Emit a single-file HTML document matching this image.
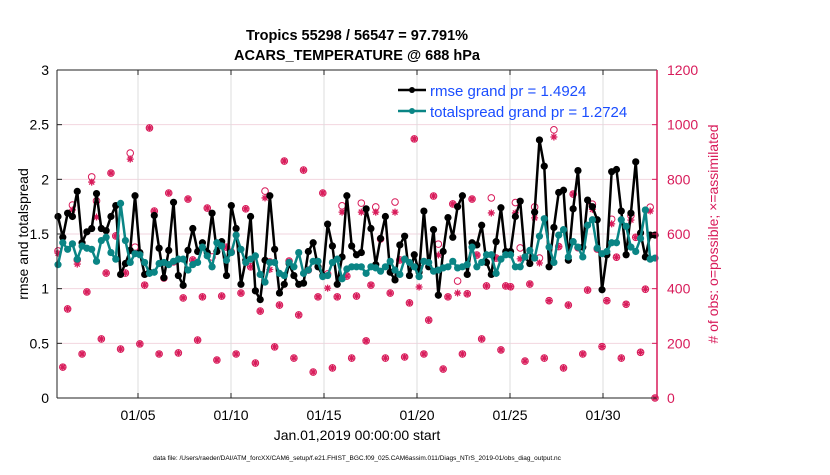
<!DOCTYPE html>
<html><head><meta charset="utf-8"><style>
body{margin:0;background:#fff;width:830px;height:470px;overflow:hidden;font-family:"Liberation Sans",sans-serif}
svg text{font-family:"Liberation Sans",sans-serif}
</style></head><body>
<svg id="chart" width="830" height="470" xmlns="http://www.w3.org/2000/svg">
<text x="357" y="40" text-anchor="middle" font-size="14.5" font-weight="bold">Tropics 55298 / 56547 = 97.791%</text>
<text x="357" y="60" text-anchor="middle" font-size="14.5" font-weight="bold">ACARS_TEMPERATURE @ 688 hPa</text>
<g id="grid"></g>
<g id="obs"></g>
<g id="lines"></g>
<g id="axes"></g>
<text transform="translate(28,234) rotate(-90)" text-anchor="middle" font-size="14">rmse and totalspread</text>
<text transform="translate(718,234) rotate(-90)" text-anchor="middle" font-size="14" fill="#d81b5a"># of obs: o=possible; ×=assimilated</text>
<text x="357" y="440" text-anchor="middle" font-size="14">Jan.01,2019 00:00:00 start</text>
<text x="357" y="460" text-anchor="middle" font-size="6.5">data file: /Users/raeder/DAI/ATM_forcXX/CAM6_setup/f.e21.FHIST_BGC.f09_025.CAM6assim.011/Diags_NTrS_2019-01/obs_diag_output.nc</text>
<g>
<line x1="398" y1="90" x2="426" y2="90" stroke="#000" stroke-width="2.5"/><circle cx="412" cy="90" r="3" fill="#000"/>
<text x="430" y="96" font-size="15" fill="#1a4dff">rmse grand pr = 1.4924</text>
<line x1="398" y1="111" x2="426" y2="111" stroke="#0a8585" stroke-width="2.5"/><circle cx="412" cy="111" r="3" fill="#0a8585"/>
<text x="430" y="117" font-size="15" fill="#1a4dff">totalspread grand pr = 1.2724</text>
</g>
</svg>
<script>
const rmse=[1.66,1.47,1.69,1.66,1.89,1.42,1.52,1.55,1.87,1.55,1.53,1.66,1.76,1.13,1.23,1.35,1.85,1.33,1.13,1.15,1.67,1.37,1.10,1.35,1.79,1.12,1.03,1.35,1.55,1.34,1.42,1.33,
1.69,1.34,1.43,1.12,1.76,1.55,1.04,1.26,1.66,0.98,0.90,1.26,1.85,1.36,0.96,1.04,1.23,1.12,1.04,1.05,1.34,1.42,1.20,1.12,1.59,1.39,1.04,1.29,1.85,1.39,1.31,
1.33,1.73,1.55,1.22,1.46,1.66,1.15,1.08,1.40,1.48,1.12,1.31,1.15,1.71,1.20,1.54,0.94,1.34,1.65,1.47,1.75,1.85,1.13,1.42,1.40,1.58,1.24,1.13,1.43,1.74,1.34,
1.34,1.66,1.80,1.29,1.23,1.70,2.36,2.12,1.20,1.56,1.88,1.90,1.26,1.73,2.08,1.38,1.81,1.75,1.63,0.99,1.31,2.07,2.09,1.71,1.31,1.69,2.16,1.51,1.29,1.49,1.49];
const spread=[1.22,1.42,1.36,1.41,1.27,1.39,1.37,1.36,1.25,1.44,1.47,1.33,1.27,1.78,1.44,1.24,1.32,1.31,1.24,1.14,1.15,1.23,1.24,1.22,1.25,1.27,1.27,1.17,1.22,1.24,1.38,1.30,
1.20,1.42,1.39,1.26,1.33,1.49,1.36,1.24,1.27,1.30,1.13,1.06,1.24,1.24,1.14,1.12,1.24,1.20,1.33,1.14,1.17,1.25,1.25,1.11,1.12,1.24,1.27,1.09,1.18,1.20,1.20,
1.20,1.14,1.20,1.19,1.16,1.20,1.25,1.17,1.13,1.27,1.24,1.20,1.11,1.25,1.24,1.16,1.17,1.19,1.20,1.25,1.19,1.20,1.22,1.38,1.20,1.24,1.31,1.31,1.14,1.27,
1.31,1.31,1.20,1.20,1.29,1.35,1.28,1.48,1.64,1.38,1.24,1.49,1.54,1.29,1.43,1.38,1.29,1.58,1.63,1.37,1.32,1.34,1.42,1.42,1.63,1.57,1.38,1.34,1.46,1.72,1.27,1.28];
const possible=[538,113,326,706,505,161,388,809,721,216,457,823,593,179,457,896,552,198,413,988,684,161,439,750,498,165,366,728,505,212,370,695,
516,139,373,552,534,161,384,692,480,128,318,757,498,187,340,867,501,146,304,834,468,95,370,750,454,110,370,703,446,146,373,
713,209,413,699,582,146,384,717,505,150,348,948,475,161,285,739,563,106,370,710,428,161,381,728,523,216,410,732,512,176,410,
407,715,549,135,417,699,512,146,356,981,554,110,340,746,550,161,395,709,545,188,356,654,515,146,343,667,588,167,398,698,0];
const assimilated=[530,113,326,688,490,161,388,790,662,216,457,823,593,179,457,874,530,198,413,988,684,161,439,750,498,165,366,728,505,212,370,695,
480,139,373,552,534,161,384,692,480,128,318,732,470,187,340,867,501,146,304,834,468,95,370,750,402,110,370,680,446,146,373,
680,209,413,680,582,146,384,680,505,150,348,948,406,161,285,739,523,106,370,710,384,161,381,728,523,216,410,677,512,176,410,
407,677,509,135,417,659,494,146,356,955,554,110,340,746,550,161,395,690,545,188,356,637,515,146,343,651,588,167,398,684,0];
const tickDays=[5,10,15,20,25,30];
const tickLabels=['01/05','01/10','01/15','01/20','01/25','01/30'];
const leftTicks=[0,0.5,1,1.5,2,2.5,3];
const rightTicks=[0,200,400,600,800,1000,1200];

const X0=57,X1=657,Y0=398,Y1=70;
const xi=i=>58+i*(655-58)/(rmse.length-1);
const xd=d=>138+(d-5)*18.6;
const yl=v=>Y0-(v/3)*(Y0-Y1);
const yr=v=>Y0-(v/1200)*(Y0-Y1);
const NS='http://www.w3.org/2000/svg';
function mk(tag,parent,attrs){const e=document.createElementNS(NS,tag);for(const k in attrs)e.setAttribute(k,attrs[k]);parent.appendChild(e);return e;}
const grid=document.getElementById('grid'),obs=document.getElementById('obs'),lines=document.getElementById('lines'),axes=document.getElementById('axes');
const OC='#d81b5a';
leftTicks.forEach((t,k)=>{
  if(t>0&&t<3){const g=mk('line',grid,{x1:X0,x2:X1,y1:yl(t),y2:yl(t),stroke:'#f2d6df','stroke-width':1});
  
  }
  const tx=mk('text',axes,{x:X0-8,y:yl(t)+5,'text-anchor':'end','font-size':14});tx.textContent=String(t);
  
  
  mk('line',axes,{x1:X0,x2:X0+5,y1:yl(t),y2:yl(t),stroke:'#222'});
});
rightTicks.forEach(t=>{
  const tx=mk('text',axes,{x:X1+10,y:yr(t)+5,'font-size':14,fill:OC});tx.textContent=String(t);
  
  
  mk('line',axes,{x1:X1-5,x2:X1,y1:yr(t),y2:yr(t),stroke:OC});
});
tickDays.forEach((d,k)=>{
  const x=xd(d);
  const g=mk('line',grid,{x1:x,x2:x,y1:Y1,y2:Y0,stroke:'#dcdcdc','stroke-width':1});
  
  
  mk('line',axes,{x1:x,x2:x,y1:Y0,y2:Y0-5,stroke:'#222'});
  mk('line',axes,{x1:x,x2:x,y1:Y1,y2:Y1+5,stroke:'#222'});
  const tx=mk('text',axes,{x:x,y:Y0+22,'text-anchor':'middle','font-size':14});tx.textContent=tickLabels[k];
  
  
});
mk('line',axes,{x1:X0,x2:X0,y1:Y1,y2:Y0,stroke:'#222','stroke-width':1});
mk('line',axes,{x1:X0,x2:X1,y1:Y0,y2:Y0,stroke:'#222','stroke-width':1});
mk('line',axes,{x1:X0,x2:X1,y1:Y1,y2:Y1,stroke:'#222','stroke-width':1});
mk('line',axes,{x1:X1,x2:X1,y1:Y1,y2:Y0,stroke:OC,'stroke-width':1.5});

possible.forEach((v,i)=>{
  const c=mk('circle',obs,{cx:xi(i),cy:yr(v),r:3.3,fill:'none',stroke:OC,'stroke-width':1});
  
  
});
assimilated.forEach((v,i)=>{
  const x=xi(i),y=yr(v),s=3.5;
  const p=mk('path',obs,{d:`M${x-s},${y}H${x+s}M${x},${y-s}V${y+s}M${x-2.5},${y-2.5}L${x+2.5},${y+2.5}M${x-2.5},${y+2.5}L${x+2.5},${y-2.5}`,stroke:OC,'stroke-width':1.3});
  
  
});
function series(vals,color,name){
  const pl=mk('polyline',lines,{points:vals.map((v,i)=>xi(i)+','+yl(v)).join(' '),fill:'none',stroke:color,'stroke-width':2.5,'stroke-linejoin':'round'});
  
  
  vals.forEach((v,i)=>{
    const c=mk('circle',lines,{cx:xi(i),cy:yl(v),r:3.6,fill:color});
    
    
  });
}
series(rmse,'#000','rmse');
series(spread,'#0a8585','totalspread');
</script>
</body></html>
